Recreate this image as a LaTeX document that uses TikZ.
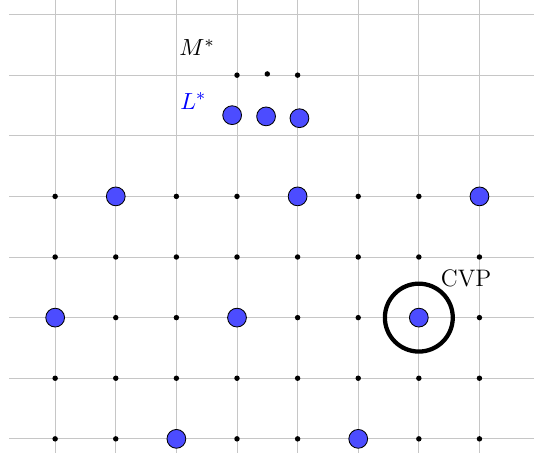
\documentclass[tikz,border=0pt]{standalone}
\usepackage{amsmath,amssymb}
\usepackage{tikz}
\usepackage{xcolor}
\tikzset{latpt/.style={fill=blue!70,draw=black,line width=0.4pt}, lbl/.style={font=\fontsize{11.2}{13}\selectfont}}

\begin{document}
\begin{tikzpicture}[x=1cm,y=1cm]
  \useasboundingbox (-0.91,-0.31) rectangle (7.90,7.24);
  \draw[gray!45,line width=0.4pt] (-0.76,-0.23) grid (7.95,7.3);
  \foreach \x in {0,...,7} \foreach \y in {0,...,4} \fill (\x,\y) circle (0.045); % grid points
  \foreach \p in {(1,4),(4,4),(7,4),(0,2),(3,2),(6,2),(2,0),(5,0)} \filldraw[latpt] \p circle (0.155);
  \draw[line width=2pt] (6,2) circle (0.56); \node[lbl] (cvp) at (6.78,2.64) {CVP};
  \node[lbl] (mstar) at (2.34,6.46) {$M^*$}; \foreach \p in {(3,6),(3.5,6.02),(4,6)} \fill \p circle (0.045);
  \node[lbl,blue] (lstar) at (2.28,5.57) {$L^*$}; \foreach \p in {(2.92,5.34),(3.48,5.32),(4.03,5.29)} \filldraw[latpt] \p circle (0.155);
\end{tikzpicture}
\end{document}
